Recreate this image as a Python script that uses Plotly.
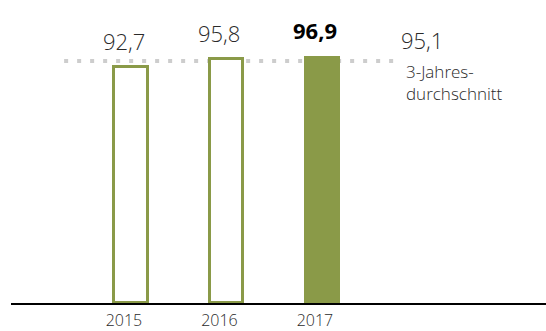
import plotly.graph_objects as go

years = ["2015", "2016", "2017"]
values = [92.7, 95.8, 96.9]
value_labels = ["92,7", "95,8", "96,9"]
average = 95.1
average_label = "95,1"
average_text = "3-Jahres-<br>durchschnitt"

GREEN = "#8A9A48"
FONT = "Open Sans"
x_idx = list(range(len(years)))

fig = go.Figure()

# outlined bars (previous years) and filled bar (current year)
fill_colors = ["white", "white", GREEN]
widths = [0.35, 0.35, 0.375]
line_widths = [3, 3, 0]
fig.add_trace(go.Bar(
    x=x_idx, y=values, width=widths,
    marker=dict(color=fill_colors, line=dict(color=GREEN, width=line_widths)),
    hoverinfo="skip", showlegend=False,
))

# dotted average line (behind bars)
fig.add_shape(type="line", xref="x", yref="y", x0=-0.70, x1=2.79, y0=average, y1=average,
              line=dict(color="#CDCDCD", width=4, dash="4px,9px"), layer="below")

# value labels
for i, (v, t) in enumerate(zip(values, value_labels)):
    bold = i == len(values) - 1
    fig.add_annotation(x=i, y=v, text=f"<b>{t}</b>" if bold else t, showarrow=False,
                       xanchor="center", yanchor="bottom", xshift=-7, yshift=9,
                       font=dict(family=FONT, size=22, color="#000" if bold else "#2a2a2a",
                                 weight=700 if bold else 300))

# average labels
fig.add_annotation(x=2.79, y=average, text=average_label, showarrow=False,
                   xanchor="left", yanchor="bottom", xshift=2, yshift=4,
                   font=dict(family=FONT, size=22, color="#2a2a2a", weight=300))
fig.add_annotation(x=2.79, y=average, text=average_text, showarrow=False,
                   xanchor="left", yanchor="top", xshift=7, yshift=3, align="left",
                   font=dict(family=FONT, size=17, color="#2a2a2a", weight=300))

fig.update_layout(
    width=546, height=331,
    margin=dict(l=11, r=0, t=24, b=26),
    paper_bgcolor="white", plot_bgcolor="white",
    bargap=0,
    xaxis=dict(range=[-1.2565, 4.346], tickvals=x_idx, ticktext=years,
               showline=True, linecolor="black", linewidth=2, showgrid=False,
               zeroline=False, ticks="", ticklabelshift=-7, ticklabelstandoff=2,
               tickfont=dict(family=FONT, size=16, color="#2a2a2a", weight=300)),
    yaxis=dict(range=[0, 109.6], visible=False, showgrid=False, zeroline=False),
)

fig.write_html("out.html")
